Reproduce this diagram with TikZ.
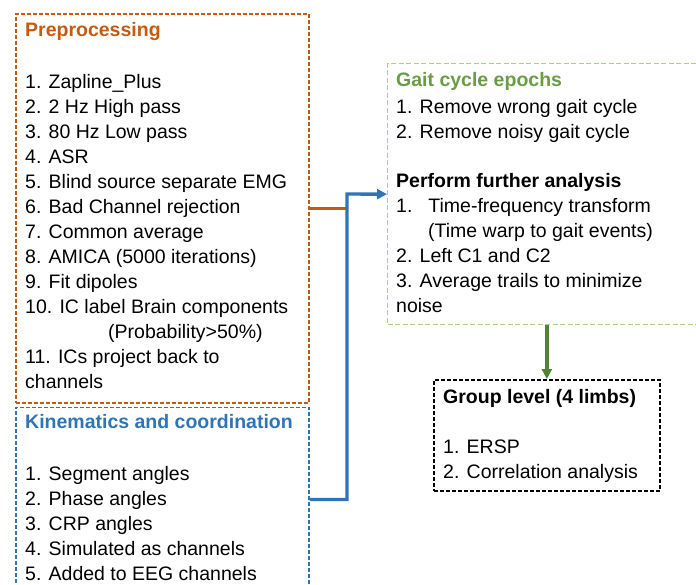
\documentclass[tikz,border=0pt]{standalone}
\usepackage{fontspec}
\setmainfont{Liberation Sans}
\usetikzlibrary{arrows.meta,positioning}
\definecolor{preorange}{HTML}{C55A11}
\definecolor{kinblue}{HTML}{2E75B6}
\definecolor{gaitgreen}{HTML}{6A9C45}
\definecolor{gaitline}{HTML}{A9D18E}
\definecolor{arrowgreen}{HTML}{548235}

\begin{document}
\begin{tikzpicture}[
  x=1pt, y=-1pt,
  >={Triangle[length=10pt,width=10pt]},
  frame/.style={draw, dashed, line width=1.7pt, inner sep=0pt, anchor=north west},
  txt/.style={align=left, inner sep=0pt, font=\fontsize{19.5}{25}\selectfont},
  link/.style={line width=3.4pt}
]
\useasboundingbox (0,0) rectangle (696,585);

% boxes
\node[frame, draw=preorange, dash pattern=on 4pt off 2pt, minimum width=293pt, minimum height=389pt] (pre) at (15,13) {};
\node[frame, draw=kinblue, line width=1.5pt, dash pattern=on 4pt off 2pt, minimum width=293pt, minimum height=184pt, below=3pt of pre.south west, anchor=north west] (kin) {};
\node[frame, draw=gaitline, line width=1.3pt, dash pattern=on 5pt off 2.5pt, minimum width=320pt, minimum height=261pt] (gait) at (387,63) {};
\node[frame, draw=black, dash pattern=on 4pt off 2pt, minimum width=226pt, minimum height=111pt] (grp) at (433,379) {};

% texts
\node[txt, below right=5.4pt and 10pt of pre.north west] (pretext) {\strut\textbf{\color{preorange}Preprocessing}\\[27pt]
1. Zapline\_Plus\\
2. 2 Hz High pass\\
3. 80 Hz Low pass\\
4. ASR\\
5. Blind source separate EMG\\
6. Bad Channel rejection\\
7. Common average\\
8. AMICA (5000 iterations)\\
9. Fit dipoles\\
10. IC label Brain components\\
\hspace{83pt}(Probability>50\%)\\
11. ICs project back to\\
channels};

\node[txt, below right=4.2pt and 10pt of kin.north west] (kintext) {\strut\textbf{\color{kinblue}Kinematics and coordination}\\[26.6pt]
1. Segment angles\\
2. Phase angles\\
3. CRP angles\\
4. Simulated as channels\\
5. Added to EEG channels};

\node[txt, below right=5.9pt and 9pt of gait.north west] (gaittext) {\strut\textbf{\color{gaitgreen}Gait cycle epochs}\\[1.6pt]
1. Remove wrong gait cycle\\
2. Remove noisy gait cycle\\[24.4pt]
\textbf{Perform further analysis}\\
1.\hspace{16pt}Time-frequency transform\\
\hspace{32pt}(Time warp to gait events)\\
2. Left C1 and C2\\
3. Average trails to minimize\\
noise};

\node[txt, below right=6.5pt and 10pt of grp.north west] (grptext) {\strut\textbf{Group level (4 limbs)}\\[25.7pt]
1. ERSP\\
2. Correlation analysis};

% connectors
\coordinate (bend) at (347,194);
\draw[link, preorange] (pre.east) -- (pre.east -| bend);
\draw[link, kinblue, ->] (kin.east) -| (bend) -- (gait.west);
\draw[link, arrowgreen, ->] (gait.south -| grp.north) -- (grp.north);
\end{tikzpicture}
\end{document}
